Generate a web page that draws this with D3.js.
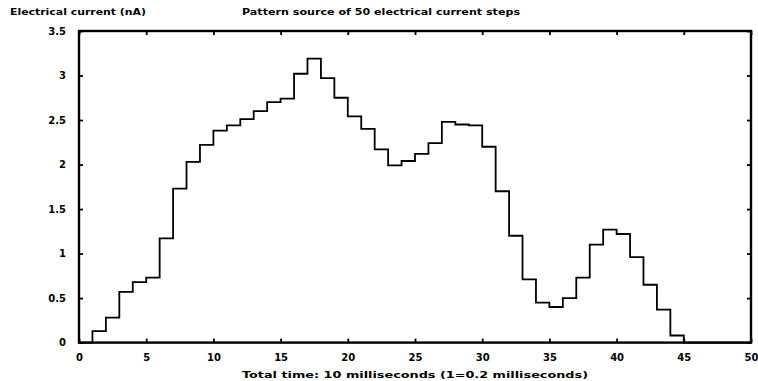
<!DOCTYPE html>
<html>
<head>
<meta charset="utf-8">
<script src="https://cdn.jsdelivr.net/npm/d3@7"></script>
<style>
  html, body { margin: 0; padding: 0; background: #fff; }
  svg text { font-family: "DejaVu Sans", sans-serif; font-weight: bold; fill: #000; }
</style>
</head>
<body>
<svg id="chart" width="758" height="381"></svg>
<script>
// Current level (nA) held during each of the 50 time steps
const stepIndex = d3.range(0, 50);
const currentNA = [
  0.00, 0.13, 0.28, 0.57, 0.68, 0.73, 1.17, 1.73, 2.03, 2.22,
  2.38, 2.44, 2.51, 2.60, 2.70, 2.74, 3.02, 3.19, 2.97, 2.75,
  2.54, 2.40, 2.17, 1.99, 2.04, 2.12, 2.24, 2.48, 2.45, 2.44,
  2.20, 1.70, 1.20, 0.71, 0.45, 0.40, 0.50, 0.73, 1.10, 1.27,
  1.22, 0.96, 0.65, 0.37, 0.08, 0.00, 0.00, 0.00, 0.00, 0.00
];
const xTickValues = [0, 5, 10, 15, 20, 25, 30, 35, 40, 45, 50];
const yTickValues = [0, 0.5, 1, 1.5, 2, 2.5, 3, 3.5];
const yTickLabels = ["0", "0.5", "1", "1.5", "2", "2.5", "3", "3.5"];

const yAxisTitle = "Electrical current (nA)";
const chartTitle = "Pattern source of 50 electrical current steps";
const xAxisTitle = "Total time: 10 milliseconds (1=0.2 milliseconds)";

const svg = d3.select("#chart");
const plot = { left: 79, right: 751, top: 31, bottom: 342.6 };

const x = d3.scaleLinear().domain([0, 50]).range([plot.left, plot.right]);
const y = d3.scaleLinear().domain([0, 3.5]).range([plot.bottom, plot.top]);

// Step trace: each level holds until the next step begins
const pts = stepIndex.map(i => [i, currentNA[i]]);
pts.push([stepIndex.length, currentNA[currentNA.length - 1]]);
const line = d3.line()
  .x(d => x(d[0]))
  .y(d => y(d[1]))
  .curve(d3.curveStepAfter);

svg.append("path")
  .datum(pts)
  .attr("d", line)
  .attr("fill", "none")
  .attr("stroke", "#000")
  .attr("stroke-width", 1.8);

// Inward tick marks on all four sides
const tickLen = 4;
function styleAxis(g) {
  g.select(".domain").remove();
  g.selectAll(".tick line").attr("stroke", "#000").attr("stroke-width", 1.8);
  g.selectAll(".tick text").attr("font-size", 10).attr("font-family", "DejaVu Sans").attr("font-weight", "bold");
}

svg.append("g")
  .attr("transform", `translate(0,${plot.bottom})`)
  .call(d3.axisBottom(x).tickValues(xTickValues).tickFormat(d3.format("d"))
        .tickSizeInner(-tickLen).tickSizeOuter(0).tickPadding(11))
  .call(styleAxis);

svg.append("g")
  .attr("transform", `translate(0,${plot.top})`)
  .call(d3.axisTop(x).tickValues(xTickValues).tickFormat("")
        .tickSizeInner(-tickLen).tickSizeOuter(0))
  .call(styleAxis);

svg.append("g")
  .attr("transform", `translate(${plot.left},0)`)
  .call(d3.axisLeft(y).tickValues(yTickValues).tickFormat((d, i) => yTickLabels[i])
        .tickSizeInner(-tickLen).tickSizeOuter(0).tickPadding(13))
  .call(styleAxis);

svg.append("g")
  .attr("transform", `translate(${plot.right},0)`)
  .call(d3.axisRight(y).tickValues(yTickValues).tickFormat("")
        .tickSizeInner(-tickLen).tickSizeOuter(0))
  .call(styleAxis);

// Plot frame
svg.append("rect")
  .attr("x", plot.left).attr("y", plot.top)
  .attr("width", plot.right - plot.left).attr("height", plot.bottom - plot.top)
  .attr("fill", "none")
  .attr("stroke", "#000")
  .attr("stroke-width", 2.4);

// Titles
svg.append("text")
  .attr("x", 10).attr("y", 15)
  .attr("font-size", 9)
  .attr("textLength", 136).attr("lengthAdjust", "spacingAndGlyphs")
  .text(yAxisTitle);

svg.append("text")
  .attr("x", 242).attr("y", 15)
  .attr("font-size", 9)
  .attr("textLength", 278).attr("lengthAdjust", "spacingAndGlyphs")
  .text(chartTitle);

svg.append("text")
  .attr("x", 242).attr("y", 378)
  .attr("font-size", 9.5)
  .attr("textLength", 346).attr("lengthAdjust", "spacingAndGlyphs")
  .text(xAxisTitle);
</script>
</body>
</html>
